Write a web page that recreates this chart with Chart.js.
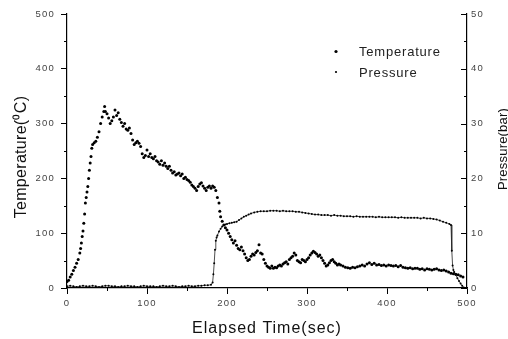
<!DOCTYPE html>
<html>
<head>
<meta charset="utf-8">
<script src="https://cdn.jsdelivr.net/npm/chart.js@4/dist/chart.umd.min.js"></script>
<style>
html,body{margin:0;padding:0;background:#fff;}
#wrap{width:508px;height:339px;position:relative;}
canvas{display:block;}
</style>
</head>
<body>
<div id="wrap"><canvas id="c" width="508" height="339"></canvas></div>
<script>
// ---- data ----
const seriesLabels = ['Temperature', 'Pressure'];
const axisTitleX = 'Elapsed Time(sec)';
const axisTitleLeft = 'Temperature(\u2070C)';
const axisTitleRight = 'Pressure(bar)';

const xTicks = [0, 100, 200, 300, 400, 500];
const xMinorTicks = [50, 150, 250, 350, 450];
const tempTicks = [0, 100, 200, 300, 400, 500];
const tempMinorTicks = [50, 150, 250, 350, 450];
const pressTicks = [0, 10, 20, 30, 40, 50];
const pressMinorTicks = [5, 15, 25, 35, 45];

// Temperature (deg C) vs elapsed time (sec)
const tempTime = [
  0,2,4,6,8,10,12,14,16,17,
  18,19,20,21,22,23,24,25,26,27,
  28,29,30,31,32,34,36,38,40,42,
  44,46,47,48,50,52,54,56,58,60,
  62,64,66,68,70,72,74,76,78,80,
  82,84,86,88,90,92,94,96,98,100,
  102,104,106,108,110,112,114,116,118,120,
  122,124,126,128,130,132,134,136,138,140,
  142,144,146,148,150,152,154,156,158,160,
  162,164,166,168,170,172,174,176,178,180,
  182,184,186,188,190,191,192,194,196,198,
  200,202,204,206,208,210,212,214,216,218,
  220,222,224,226,228,230,232,234,236,238,
  240,242,244,246,248,250,252,254,256,258,
  260,262,264,266,268,270,272,274,276,278,
  280,282,284,286,288,290,292,294,296,298,
  300,302,304,306,308,310,312,314,316,318,
  320,322,324,326,328,330,332,334,336,338,
  340,342,345,348,351,354,357,360,363,366,
  369,372,375,378,381,384,387,390,393,396,
  399,402,405,408,411,414,417,420,423,426,
  429,432,435,438,441,444,447,450,453,456,
  459,462,465,468,471,474,477,480,483,486,
  489,492,495
];
const tempValue = [
  12,14,20,25,32,38,45,52,64,72,
  82,94,104,118,135,155,165,175,185,200,
  215,228,240,255,262,265,268,275,285,300,
  312,322,331,322,318,310,300,305,312,325,
  315,320,308,302,295,300,290,288,292,282,
  270,262,265,268,264,258,245,238,242,252,
  240,245,238,236,240,232,230,226,232,224,
  228,222,218,222,215,210,212,206,208,210,
  205,208,200,202,198,196,193,188,185,182,
  178,185,190,192,186,182,178,184,186,182,
  186,184,178,165,155,140,130,122,115,110,
  106,100,94,88,82,86,78,72,70,75,
  68,62,55,50,52,58,62,60,65,68,
  79,64,62,52,45,40,38,36,40,36,
  38,37,40,42,40,44,46,48,44,52,
  55,58,64,60,50,48,46,52,50,48,
  52,55,60,64,67,65,62,58,60,55,
  50,45,40,42,46,50,52,48,45,42,
  44,42,40,38,37,36,38,37,39,40,
  42,40,44,46,43,45,42,43,41,42,
  40,42,41,40,41,39,41,38,37,36,
  37,35,36,36,34,35,33,35,34,33,
  34,35,33,32,33,31,29,27,26,25,
  24,22,20
];

// Pressure (bar) vs elapsed time (sec)
const pressTime = [
  0,4,8,12,16,20,24,28,32,36,
  40,44,48,52,56,60,64,68,72,76,
  80,84,88,92,96,100,104,108,112,116,
  120,124,128,132,136,140,144,148,152,156,
  160,164,168,172,176,180,182,183,184,185,
  186,187,188,190,192,194,196,198,200,203,
  206,209,212,215,218,221,224,227,230,234,
  238,242,246,250,254,258,262,266,270,274,
  278,282,286,290,294,298,302,306,310,314,
  318,322,326,330,334,338,342,346,350,354,
  358,362,366,370,374,378,382,386,390,394,
  398,402,406,410,414,418,422,426,430,434,
  438,442,446,450,454,458,462,466,470,474,
  478,480,481,482,483,484,486,488,490,492,
  494,496
];
const pressValue = [
  0.3,0.4,0.3,0.2,0.3,0.4,0.3,0.3,0.4,0.3,
  0.2,0.3,0.4,0.4,0.3,0.3,0.2,0.3,0.3,0.4,
  0.3,0.3,0.2,0.3,0.4,0.3,0.3,0.3,0.2,0.3,
  0.4,0.3,0.3,0.4,0.3,0.2,0.3,0.3,0.4,0.3,
  0.3,0.4,0.4,0.5,0.5,0.6,1.0,2.5,4.5,7.0,
  8.6,9.2,9.6,10.3,10.8,11.2,11.5,11.6,11.7,11.8,
  11.9,12.0,12.1,12.4,12.7,13.0,13.2,13.4,13.6,13.8,
  13.9,14.0,14.0,14.0,14.1,14.1,14.1,14.0,14.1,14.0,
  14.0,14.0,13.9,13.9,13.8,13.7,13.6,13.5,13.4,13.4,
  13.3,13.3,13.3,13.2,13.3,13.2,13.2,13.1,13.1,13.1,
  13.0,13.1,13.0,13.0,13.0,13.0,13.0,12.9,13.0,12.9,
  12.9,12.9,12.9,12.9,12.8,12.9,12.8,12.8,12.8,12.8,
  12.8,12.7,12.8,12.7,12.7,12.6,12.5,12.3,12.1,11.9,
  11.7,11.5,6.8,4.1,3.3,2.9,2.4,1.8,1.3,0.8,
  0.4,0.1
];

// ---- chart ----
const FONT = "'Liberation Sans', Arial, sans-serif";
const temperaturePoints = tempTime.map((t, i) => ({x: t, y: tempValue[i]}));
const pressurePoints = pressTime.map((t, i) => ({x: t, y: pressValue[i]}));

const decorPlugin = {
  id: 'decor',
  beforeDraw(chart) {
    chart.ctx.letterSpacing = '1.2px';
  },
  afterDraw(chart) {
    const ctx = chart.ctx;
    const a = chart.chartArea;
    const sx = chart.scales.x, sy = chart.scales.y, sy1 = chart.scales.y1;
    ctx.save();
    ctx.letterSpacing = '0px';
    ctx.strokeStyle = '#000';
    ctx.lineWidth = 1;
    ctx.beginPath();
    xMinorTicks.forEach(v => {
      const px = Math.round(sx.getPixelForValue(v)) + 0.5;
      ctx.moveTo(px, a.bottom); ctx.lineTo(px, a.bottom + 3);
    });
    tempMinorTicks.forEach(v => {
      const py = Math.round(sy.getPixelForValue(v)) + 0.5;
      ctx.moveTo(a.left, py); ctx.lineTo(a.left - 3, py);
    });
    pressTicks.forEach(v => {
      const py = Math.round(sy1.getPixelForValue(v)) + 0.5;
      ctx.moveTo(a.right, py); ctx.lineTo(a.right - 6, py);
    });
    pressMinorTicks.forEach(v => {
      const py = Math.round(sy1.getPixelForValue(v)) + 0.5;
      ctx.moveTo(a.right, py); ctx.lineTo(a.right - 3, py);
    });
    ctx.stroke();

    // axis titles
    ctx.fillStyle = '#111';
    ctx.textBaseline = 'alphabetic';
    ctx.textAlign = 'center';
    ctx.font = '16px ' + FONT;
    ctx.letterSpacing = '0.3px';
    ctx.save();
    ctx.translate(25.5, 157);
    ctx.rotate(-Math.PI / 2);
    ctx.fillText(axisTitleLeft, 0, 0);
    ctx.restore();

    ctx.save();
    ctx.font = '13px ' + FONT;
    ctx.letterSpacing = '0.2px';
    ctx.translate(506.5, 149);
    ctx.rotate(-Math.PI / 2);
    ctx.fillText(axisTitleRight, 0, 0);
    ctx.restore();

    ctx.letterSpacing = '1px';
    ctx.fillText(axisTitleX, 267, 333);

    // legend
    ctx.textAlign = 'left';
    ctx.font = '13px ' + FONT;
    ctx.letterSpacing = '0.8px';
    ctx.fillStyle = '#222';
    const legendRows = [{y: 51.5, base: 56}, {y: 72, base: 76.5}];
    chart.data.datasets.forEach((ds, i) => {
      ctx.beginPath();
      ctx.arc(336, legendRows[i].y, i === 0 ? 1.6 : 1.1, 0, Math.PI * 2);
      ctx.fillStyle = '#000';
      ctx.fill();
      ctx.fillStyle = '#222';
      ctx.fillText(ds.label, 359, legendRows[i].base);
    });
    ctx.restore();
  }
};

const tickFont = {family: FONT, size: 9.5};

new Chart(document.getElementById('c'), {
  type: 'scatter',
  data: {
    datasets: [
      {
        label: seriesLabels[0],
        data: temperaturePoints,
        yAxisID: 'y',
        showLine: false,
        pointRadius: 1.5,
        pointBorderWidth: 0,
        pointBackgroundColor: '#000',
        pointBorderColor: '#000'
      },
      {
        label: seriesLabels[1],
        data: pressurePoints,
        yAxisID: 'y1',
        showLine: true,
        borderColor: '#222',
        borderWidth: 0.8,
        pointRadius: 1,
        pointBorderWidth: 0,
        pointBackgroundColor: '#000',
        pointBorderColor: '#000'
      }
    ]
  },
  options: {
    responsive: false,
    animation: false,
    devicePixelRatio: 1,
    layout: {padding: {top: 14, left: 0, right: 0, bottom: 0}},
    plugins: {legend: {display: false}, tooltip: {enabled: false}},
    scales: {
      x: {
        type: 'linear',
        position: 'bottom',
        min: 0, max: 500,
        afterBuildTicks: s => { s.ticks = xTicks.map(v => ({value: v})); },
        afterFit: s => { s.height = 51; },
        grid: {display: true, drawOnChartArea: false, drawTicks: true, tickLength: 6, color: '#000', lineWidth: 1},
        border: {display: true, color: '#000', width: 1.3},
        ticks: {font: tickFont, color: '#444', padding: 4, maxRotation: 0}
      },
      y: {
        type: 'linear',
        position: 'left',
        min: 0, max: 500,
        afterBuildTicks: s => { s.ticks = tempTicks.map(v => ({value: v})); },
        afterFit: s => { s.width = 67; },
        grid: {display: true, drawOnChartArea: false, drawTicks: true, tickLength: 6, color: '#000', lineWidth: 1},
        border: {display: true, color: '#000', width: 1.2},
        ticks: {font: tickFont, color: '#444', padding: 6}
      },
      y1: {
        type: 'linear',
        position: 'right',
        min: 0, max: 50,
        afterBuildTicks: s => { s.ticks = pressTicks.map(v => ({value: v})); },
        afterFit: s => { s.width = 41; },
        grid: {display: true, drawOnChartArea: false, drawTicks: false},
        border: {display: true, color: '#000', width: 1.2},
        ticks: {font: tickFont, color: '#444', padding: 4}
      }
    }
  },
  plugins: [decorPlugin]
});
</script>
</body>
</html>
